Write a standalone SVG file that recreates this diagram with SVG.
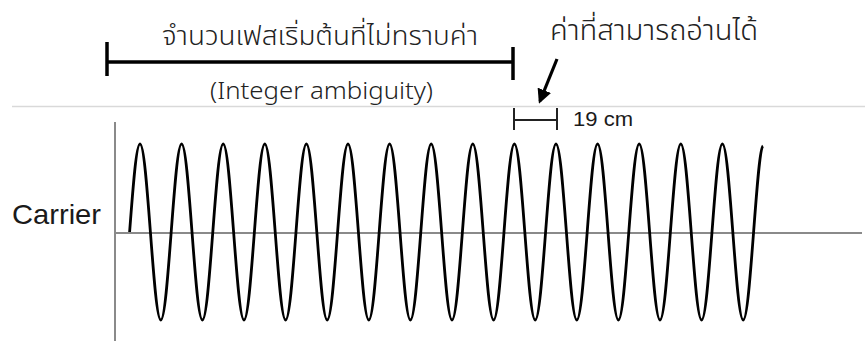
<svg xmlns="http://www.w3.org/2000/svg" width="865" height="341" viewBox="0 0 865 341">
<style>
.thai{font-family:"Noto Sans Thai","Noto Sans Thai UI","Noto Sans","DejaVu Sans",sans-serif;fill:#222;font-weight:300}
.lbl{font-family:"Liberation Sans",Arial,sans-serif;fill:#1a1a1a}
.axis{stroke:#8a8a8a;stroke-width:2;fill:none}
.brk{stroke:#000;stroke-width:3.5;fill:none}
.dim{stroke:#222;stroke-width:2;fill:none}
</style>
<defs>
<marker id="ah" viewBox="0 0 10 10" refX="8" refY="5" markerWidth="4.5" markerHeight="4.5" orient="auto" markerUnits="strokeWidth">
<path d="M0,0 L10,5 L0,10 z" fill="#000"/>
</marker>
</defs>
<rect width="865" height="341" fill="#fff"/>
<line x1="12" y1="106.5" x2="865" y2="106.5" stroke="#d9d9d9" stroke-width="1.5"/>
<g id="integer-ambiguity">
<line class="brk" x1="107" y1="62" x2="513" y2="62"/>
<line class="brk" x1="107" y1="42" x2="107" y2="76"/>
<line class="brk" x1="513" y1="47" x2="513" y2="80"/>
<text class="thai" x="162" y="45" font-size="27.5" textLength="316" lengthAdjust="spacingAndGlyphs">จำนวนเฟสเริ่มต้นที่ไม่ทราบค่า</text>
<text class="thai" x="210" y="99" font-size="23" textLength="223" lengthAdjust="spacingAndGlyphs">(Integer ambiguity)</text>
</g>
<g id="readable-value">
<text class="thai" x="550" y="40" font-size="28.5" textLength="208" lengthAdjust="spacingAndGlyphs">ค่าที่สามารถอ่านได้</text>
</g>
<g id="wavelength">
<line class="dim" x1="514" y1="108" x2="514" y2="130"/>
<line class="dim" x1="557" y1="108" x2="557" y2="130"/>
<line class="dim" x1="514" y1="120" x2="557" y2="120"/>
<text class="lbl" x="573" y="126" font-size="20" textLength="60" lengthAdjust="spacingAndGlyphs" fill="#222">19 cm</text>
</g>
<g id="carrier">
<line class="axis" x1="115" y1="122" x2="115" y2="341"/>
<line class="axis" x1="115" y1="233" x2="862" y2="233"/>
<text class="lbl" x="12" y="224" font-size="28" textLength="89" lengthAdjust="spacingAndGlyphs">Carrier</text>
<path fill="none" stroke="#000" stroke-width="2.8" stroke-linejoin="round" d="M129.6,232
c3.39,-45.08 6.64,-88 10.4,-88 c3.76,0 7.01,42.92 10.4,88 c3.39,45.08 6.64,88 10.4,88 c3.76,0 7.01,-42.92 10.4,-88
c3.39,-45.08 6.64,-88 10.4,-88 c3.76,0 7.01,42.92 10.4,88 c3.39,45.08 6.64,88 10.4,88 c3.76,0 7.01,-42.92 10.4,-88
c3.39,-45.08 6.64,-88 10.4,-88 c3.76,0 7.01,42.92 10.4,88 c3.39,45.08 6.64,88 10.4,88 c3.76,0 7.01,-42.92 10.4,-88
c3.39,-45.08 6.64,-88 10.4,-88 c3.76,0 7.01,42.92 10.4,88 c3.39,45.08 6.64,88 10.4,88 c3.76,0 7.01,-42.92 10.4,-88
c3.39,-45.08 6.64,-88 10.4,-88 c3.76,0 7.01,42.92 10.4,88 c3.39,45.08 6.64,88 10.4,88 c3.76,0 7.01,-42.92 10.4,-88
c3.39,-45.08 6.64,-88 10.4,-88 c3.76,0 7.01,42.92 10.4,88 c3.39,45.08 6.64,88 10.4,88 c3.76,0 7.01,-42.92 10.4,-88
c3.39,-45.08 6.64,-88 10.4,-88 c3.76,0 7.01,42.92 10.4,88 c3.39,45.08 6.64,88 10.4,88 c3.76,0 7.01,-42.92 10.4,-88
c3.39,-45.08 6.64,-88 10.4,-88 c3.76,0 7.01,42.92 10.4,88 c3.39,45.08 6.64,88 10.4,88 c3.76,0 7.01,-42.92 10.4,-88
c3.39,-45.08 6.64,-88 10.4,-88 c3.76,0 7.01,42.92 10.4,88 c3.39,45.08 6.64,88 10.4,88 c3.76,0 7.01,-42.92 10.4,-88
c3.39,-45.08 6.64,-88 10.4,-88 c3.76,0 7.01,42.92 10.4,88 c3.39,45.08 6.64,88 10.4,88 c3.76,0 7.01,-42.92 10.4,-88
c3.39,-45.08 6.64,-88 10.4,-88 c3.76,0 7.01,42.92 10.4,88 c3.39,45.08 6.64,88 10.4,88 c3.76,0 7.01,-42.92 10.4,-88
c3.39,-45.08 6.64,-88 10.4,-88 c3.76,0 7.01,42.92 10.4,88 c3.39,45.08 6.64,88 10.4,88 c3.76,0 7.01,-42.92 10.4,-88
c3.39,-45.08 6.64,-88 10.4,-88 c3.76,0 7.01,42.92 10.4,88 c3.39,45.08 6.64,88 10.4,88 c3.76,0 7.01,-42.92 10.4,-88
c3.39,-45.08 6.64,-88 10.4,-88 c3.76,0 7.01,42.92 10.4,88 c3.39,45.08 6.64,88 10.4,88 c3.76,0 7.01,-42.92 10.4,-88
c3.39,-45.08 6.64,-88 10.4,-88 c3.76,0 7.01,42.92 10.4,88 c3.39,45.08 6.64,88 10.4,88 c3.76,0 7.01,-42.92 10.4,-88
c3.2,-42 6.2,-84 9.4,-86"/>
</g>
<g id="connectors">
<line x1="557" y1="59" x2="540" y2="101" stroke="#000" stroke-width="3.2" marker-end="url(#ah)"/>
</g>
</svg>
